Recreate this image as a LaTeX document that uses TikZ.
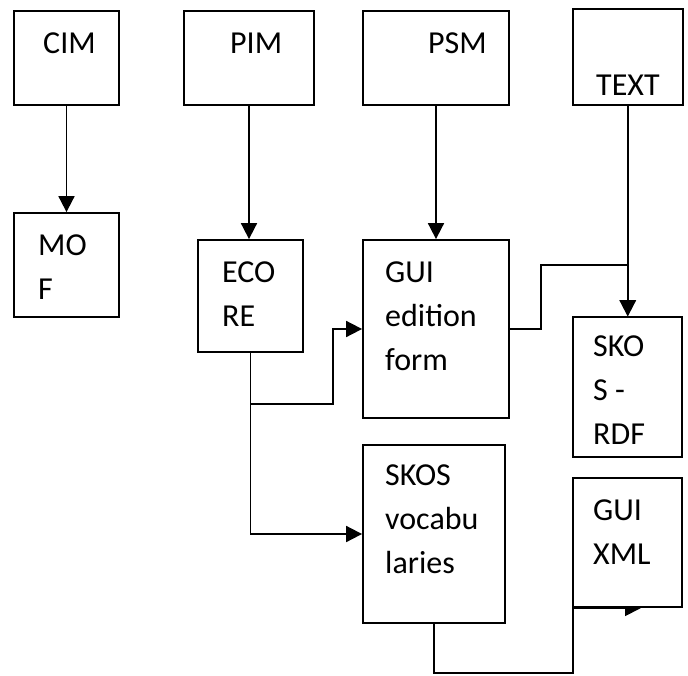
\documentclass[tikz,border=0pt]{standalone}
\usepackage{fontspec}
\setmainfont{Carlito}
\usetikzlibrary{arrows.meta}
\pgfdeclarelayer{bg}
\pgfsetlayers{bg,main}
\newcommand\mlines[1]{\begin{tabular}[t]{@{}l@{}}#1\end{tabular}}
\begin{document}
\begin{tikzpicture}[x=1pt,y=-1pt,
  box/.style={draw, line width=1.8pt, fill=white, inner sep=0pt},
  lbl/.style={anchor=base west, inner sep=0pt, font=\fontsize{32}{44}\selectfont},
  conn/.style={line width=1.8pt},
  arr/.style={conn, -{Triangle[length=16pt,width=16pt]}}]
\useasboundingbox (0,0) rectangle (688,675);

% boxes
\node[box, minimum width=105pt, minimum height=94pt]  (CIM)     at (66.5,58)   {};
\node[box, minimum width=130pt, minimum height=94pt]  (PIM)     at (249,58)    {};
\node[box, minimum width=146pt, minimum height=94pt]  (PSM)     at (436,58)    {};
\node[box, minimum width=110pt, minimum height=96pt]  (TEXT)    at (628,57)    {};
\node[box, minimum width=105pt, minimum height=104pt] (MOF)     at (66.5,265)  {};
\node[box, minimum width=105pt, minimum height=112pt] (ECORE)   at (250.5,296) {};
\node[box, minimum width=146pt, minimum height=178pt] (GUI)     at (436,329)   {};
\node[box, minimum width=109pt, minimum height=140pt] (SKOSRDF) at (627.5,387) {};
\node[box, minimum width=142pt, minimum height=178pt] (VOC)     at (434,534)   {};
\node[box, minimum width=109pt, minimum height=129pt] (XML)     at (627.5,542.5) {};

% labels
\node[lbl] (tCIM)  at (43,53)   {CIM};
\node[lbl] (tPIM)  at (230,53)  {PIM};
\node[lbl] (tPSM)  at (428,53)  {PSM};
\node[lbl] (tTEXT) at (596,95)  {TEXT};
\node[lbl] (tMOF)  at (38,255)  {\mlines{MO\\F}};
\node[lbl] (tECO)  at (222,282) {\mlines{ECO\\RE}};
\node[lbl] (tGUI)  at (385,282) {\mlines{GUI\\edition\\form}};
\node[lbl] (tRDF)  at (593,356) {\mlines{SKO\\S -\\RDF}};
\node[lbl] (tVOC)  at (385,485) {\mlines{SKOS\\vocabu\\laries}};
\node[lbl] (tXML)  at (593,520) {\mlines{GUI\\XML}};

% connectors (behind the boxes)
\coordinate (g2) at (541,265);
\coordinate (e2) at (333,404);
\coordinate (x1) at (573,673);
\coordinate (x2) at (641,608);
\begin{pgfonlayer}{bg}
\draw[arr] (CIM.south) -- (MOF.north);
\draw[arr] (PIM.south) -- (PIM.south |- ECORE.north);
\draw[arr] (PSM.south) -- (GUI.north);
\draw[arr] (TEXT.south) -- (TEXT.south |- SKOSRDF.north);
\draw[arr] (GUI.east) -| (g2) -| (SKOSRDF.north);
\draw[arr] (ECORE.south) |- (e2) |- (GUI.west);
\draw[arr] (ECORE.south) |- (VOC.west);
\draw[arr] (VOC.south) |- (x1) |- (x2);
\end{pgfonlayer}
\end{tikzpicture}
\end{document}
